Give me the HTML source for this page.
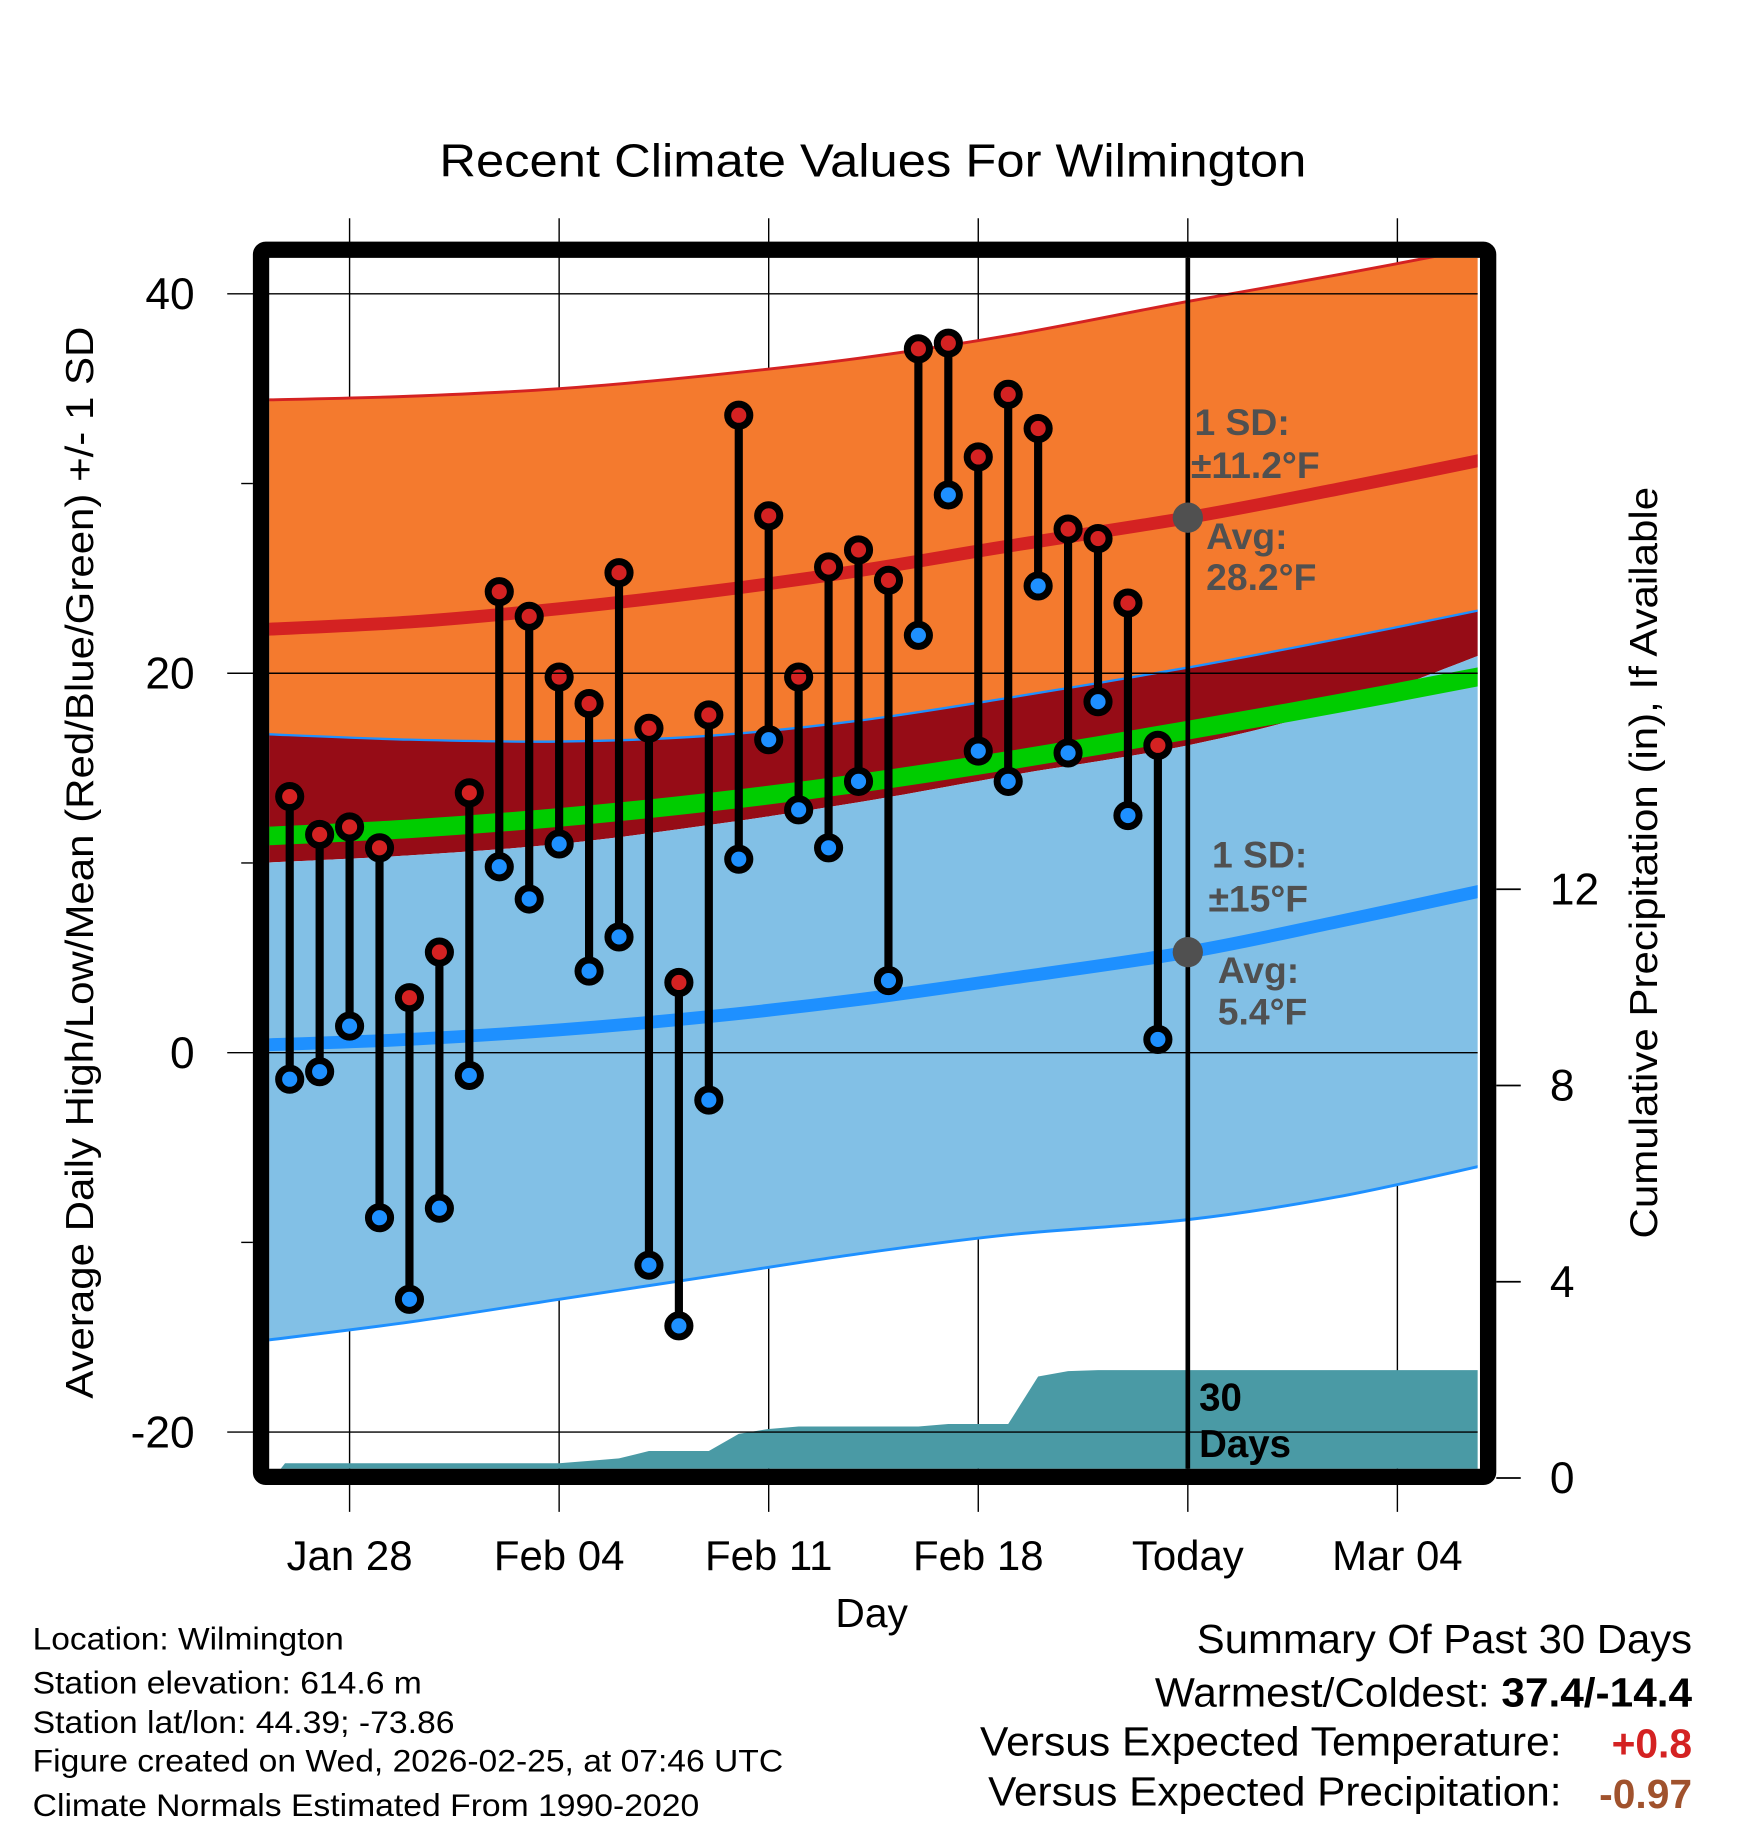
<!DOCTYPE html>
<html><head><meta charset="utf-8">
<style>
html,body{margin:0;padding:0;background:#fff;}
svg{display:block;font-family:"Liberation Sans",Arial,sans-serif;}
</style></head>
<body>
<svg id="chart" width="1748" height="1828" viewBox="0 0 1500 1568" xmlns="http://www.w3.org/2000/svg">
<defs><clipPath id="plotclip"><rect x="231" y="221" width="1037" height="1039"/></clipPath></defs>
<rect x="0" y="0" width="1500" height="1568" fill="#fff"/>
<text x="377" y="151" font-size="40" textLength="744" lengthAdjust="spacingAndGlyphs">Recent Climate Values For Wilmington</text>
<g id="grid"></g>
<g id="plot" clip-path="url(#plotclip)"></g>
<g id="marks"></g>
<g id="axes"></g>
<text transform="translate(80,740) rotate(-90)" font-size="33" text-anchor="middle" textLength="920" lengthAdjust="spacingAndGlyphs">Average Daily High/Low/Mean (Red/Blue/Green) +/- 1 SD</text>
<text transform="translate(1422,740) rotate(-90)" font-size="33" text-anchor="middle" textLength="645" lengthAdjust="spacingAndGlyphs">Cumulative Precipitation (in), If Available</text>
<text x="748" y="1396" font-size="35" text-anchor="middle">Day</text>
<g font-size="27">
<text x="28" y="1415" textLength="267" lengthAdjust="spacingAndGlyphs">Location: Wilmington</text>
<text x="28" y="1453" textLength="334" lengthAdjust="spacingAndGlyphs">Station elevation: 614.6 m</text>
<text x="28" y="1487" textLength="362" lengthAdjust="spacingAndGlyphs">Station lat/lon: 44.39; -73.86</text>
<text x="28" y="1520" textLength="644" lengthAdjust="spacingAndGlyphs">Figure created on Wed, 2026-02-25, at 07:46 UTC</text>
<text x="28" y="1558" textLength="572" lengthAdjust="spacingAndGlyphs">Climate Normals Estimated From 1990-2020</text>
</g>
<g font-size="35">
<text x="1027" y="1418" textLength="425" lengthAdjust="spacingAndGlyphs">Summary Of Past 30 Days</text>
<text x="991" y="1464" textLength="461" lengthAdjust="spacingAndGlyphs">Warmest/Coldest: <tspan font-weight="bold">37.4/-14.4</tspan></text>
<text x="841" y="1506" textLength="499" lengthAdjust="spacingAndGlyphs">Versus Expected Temperature:</text>
<text x="1452" y="1508" text-anchor="end" font-weight="bold" fill="#d42222">+0.8</text>
<text x="848" y="1549" textLength="492" lengthAdjust="spacingAndGlyphs">Versus Expected Precipitation:</text>
<text x="1452" y="1551" text-anchor="end" font-weight="bold" fill="#a0522d">-0.97</text>
</g>
</svg>
<script>
// ---- data ----
const highs = [13.5,11.5,11.9,10.8,2.9,5.3,13.7,24.3,23.0,19.8,18.4,25.3,17.1,3.7,17.8,33.6,28.3,19.8,25.6,26.5,24.9,37.1,37.4,31.4,34.7,32.9,27.6,27.1,23.7,16.2];
const lows  = [-1.4,-1.0,1.4,-8.7,-13.0,-8.2,-1.2,9.8,8.1,11.0,4.3,6.1,-11.2,-14.4,-2.5,10.2,16.5,12.8,10.8,14.3,3.8,22.0,29.4,15.9,14.3,24.6,15.8,18.5,12.5,0.7];
const precipCum = [0.3,0.3,0.3,0.3,0.3,0.3,0.3,0.3,0.3,0.3,0.35,0.4,0.55,0.55,0.55,0.9,1.0,1.05,1.05,1.05,1.05,1.05,1.1,1.1,1.1,2.07,2.18,2.2,2.2,2.2];
const normDays   = [-1,4,9,14,19,24,30,35,40];
const normHigh   = [22.3,22.7,23.4,24.3,25.4,26.7,28.2,29.7,31.3];
const normHighUp = [34.4,34.6,35.0,35.7,36.6,37.8,39.6,41.0,42.5];
const normHighLo = [16.8,16.5,16.4,16.7,17.5,18.7,20.3,21.8,23.4];
const normMean   = [11.4,11.8,12.4,13.2,14.2,15.4,17.0,18.4,19.9];
const normLow    = [0.4,0.7,1.2,1.9,2.8,3.9,5.3,6.9,8.6];
const normLowUp  = [10.0,10.4,11.0,12.0,13.2,14.6,16.2,18.2,21.1];
const normLowLo  = [-15.2,-14.2,-13.0,-11.8,-10.6,-9.6,-8.8,-7.6,-5.9];
const xTickDays  = [2,9,16,23,30,37];
const xTickLabels= ["Jan 28","Feb 04","Feb 11","Feb 18","Today","Mar 04"];
const yTicks = [40,20,0,-20];
const yMinor = [30,10,-10];
const pTicks = [0,4,8,12];

// ---- scales ----
const X = d => 248.6 + 25.69*d;
const Y = v => 903 - 16.28*v;
const P = v => 1268 - 42.1*v;
const NS="http://www.w3.org/2000/svg";
function mk(tag, attrs, parent){const e=document.createElementNS(NS,tag);for(const k in attrs)e.setAttribute(k,attrs[k]);parent.appendChild(e);return e;}
const grid=document.getElementById('grid'), plot=document.getElementById('plot'), marks=document.getElementById('marks'), axes=document.getElementById('axes');

function pts(arr){return normDays.map((d,i)=>[X(d),Y(arr[i])]);}
function smooth(p){let s='M'+p[0][0]+','+p[0][1];for(let i=0;i<p.length-1;i++){const p0=p[i-1]||p[i],p1=p[i],p2=p[i+1],p3=p[i+2]||p2;s+=' C'+(p1[0]+(p2[0]-p0[0])/6)+','+(p1[1]+(p2[1]-p0[1])/6)+' '+(p2[0]-(p3[0]-p1[0])/6)+','+(p2[1]-(p3[1]-p1[1])/6)+' '+p2[0]+','+p2[1];}return s;}
function band(a,b){const top=pts(a), bot=pts(b).reverse();return smooth(top)+' L'+bot[0][0]+','+bot[0][1]+smooth(bot).replace(/^M[^ ]+/,'')+' Z';}

let e;
e=mk('path',{d:band(normHighUp,normHighLo),fill:'#f47a2e'},plot);


e=mk('path',{d:band(normHighLo,normLowUp),fill:'#960c16'},plot);


e=mk('path',{d:band(normLowUp,normLowLo),fill:'#82c0e6'},plot);


e=mk('path',{d:smooth(pts(normHighUp)),fill:'none',stroke:'#d42222','stroke-width':2.5},plot);


e=mk('path',{d:smooth(pts(normHighLo)),fill:'none',stroke:'#1e90ff','stroke-width':2},plot);


e=mk('path',{d:smooth(pts(normLowLo)),fill:'none',stroke:'#1e90ff','stroke-width':2.5},plot);


e=mk('path',{d:smooth(pts(normMean)),fill:'none',stroke:'#00cc00','stroke-width':16},plot);


e=mk('path',{d:smooth(pts(normHigh)),fill:'none',stroke:'#d42222','stroke-width':11},plot);


e=mk('path',{d:smooth(pts(normLow)),fill:'none',stroke:'#1e90ff','stroke-width':11},plot);



// precip
let pd='M'+(X(0)-14)+','+P(0)+' L'+(X(0)-4)+','+P(precipCum[0]);
precipCum.forEach((v,i)=>{pd+=' L'+X(i)+','+P(v);});
pd+=' L1270,'+P(precipCum[precipCum.length-1])+' L1270,'+P(0)+' Z';
e=mk('path',{d:pd,fill:'#4a9aa5'},plot);



// grid lines
xTickDays.forEach((d,i)=>{
  e=mk('line',{x1:X(d),x2:X(d),y1:187,y2:1297,stroke:'#000','stroke-width':1.2},grid);
  
  
  e=mk('text',{x:X(d),y:1347,'font-size':36,'text-anchor':'middle'},axes);
  e.textContent=xTickLabels[i];
  
  
});
yTicks.forEach(v=>{
  e=mk('line',{x1:195,x2:1268,y1:Y(v),y2:Y(v),stroke:'#000','stroke-width':1.2},axes);
  
  
  e=mk('text',{x:167,y:Y(v)+13,'font-size':38,'text-anchor':'end'},axes);
  e.textContent=v;
  
  
});
yMinor.forEach(v=>{
  e=mk('line',{x1:207,x2:217,y1:Y(v),y2:Y(v),stroke:'#000','stroke-width':1.2},axes);
  
  
});
pTicks.forEach(v=>{
  e=mk('line',{x1:1284,x2:1305,y1:P(v),y2:P(v),stroke:'#000','stroke-width':1.5},axes);
  
  
  e=mk('text',{x:1330,y:P(v)+13,'font-size':38},axes);
  e.textContent=v;
  
  
});

// today line
e=mk('line',{x1:X(30),x2:X(30),y1:221,y2:1260,stroke:'#000','stroke-width':4},marks);



// daily stems
highs.forEach((h,i)=>{
  const g=mk('g',{},marks);
  
  
  mk('line',{x1:X(i),x2:X(i),y1:Y(h),y2:Y(lows[i]),stroke:'#000','stroke-width':7},g);
  mk('circle',{cx:X(i),cy:Y(h),r:9.5,fill:'#d42222',stroke:'#000','stroke-width':6},g);
  mk('circle',{cx:X(i),cy:Y(lows[i]),r:9.5,fill:'#1e90ff',stroke:'#000','stroke-width':6},g);
});

// annotations
function ann(x,y,txt,name){e=mk('text',{x:x,y:y,'font-size':32,'font-weight':'bold',fill:'#505050'},marks);e.textContent=txt;
  
  }
e=mk('circle',{cx:X(30),cy:Y(normHigh[6]),r:13,fill:'#505050'},marks);


e=mk('circle',{cx:X(30),cy:Y(normLow[6]),r:13,fill:'#505050'},marks);


ann(1025,373,'1 SD:','high-sd-label');
ann(1022,410,'±11.2°F','high-sd-value');
ann(1035,471,'Avg:','high-avg-label');
ann(1035,506,'28.2°F','high-avg-value');
ann(1040,744,'1 SD:','low-sd-label');
ann(1037,782,'±15°F','low-sd-value');
ann(1045,843,'Avg:','low-avg-label');
ann(1045,879,'5.4°F','low-avg-value');
e=mk('text',{x:1029,y:1210,'font-size':33,'font-weight':'bold',fill:'#000'},marks);e.textContent='30';


e=mk('text',{x:1029,y:1250,'font-size':33,'font-weight':'bold',fill:'#000'},marks);e.textContent='Days';



// frame
e=mk('rect',{x:224,y:214,width:1053,height:1053,rx:4,fill:'none',stroke:'#000','stroke-width':14},axes);


</script>
</body></html>
